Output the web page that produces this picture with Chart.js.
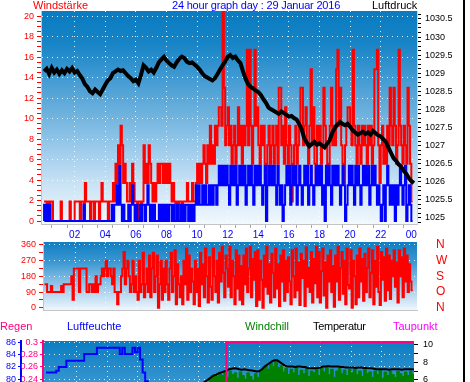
<!DOCTYPE html>
<html><head><meta charset="utf-8">
<script src="https://cdn.jsdelivr.net/npm/chart.js@4/dist/chart.umd.min.js"></script>
<style>
html,body{margin:0;padding:0;background:#fff;overflow:hidden;width:470px;height:382px}
#wrap{position:relative;width:470px;height:382px;overflow:hidden;font-family:'Liberation Sans',Arial,sans-serif}
canvas{position:absolute;left:0}
.t{position:absolute;font-size:11px;line-height:11px;white-space:nowrap}
#frame{position:absolute;left:463px;top:0;width:2px;height:382px;background:#000}
</style></head><body>
<div id="wrap">
<canvas id="c1" width="470" height="250" style="top:0"></canvas>
<canvas id="c2" width="470" height="90" style="top:232px"></canvas>
<canvas id="c3" width="470" height="100" style="top:330px"></canvas>
<div class="t" style="left:33px;top:0;color:#ff0000">Windstärke</div>
<div class="t" style="left:172px;top:0;color:#0000ff;letter-spacing:-0.2px">24 hour graph day : 29 Januar 2016</div>
<div class="t" style="left:372px;top:0;color:#000">Luftdruck</div>
<div class="t" style="left:0;top:321px;color:#ff0080">Regen</div>
<div class="t" style="left:67px;top:321px;color:#0000ff">Luftfeuchte</div>
<div class="t" style="left:245px;top:321px;color:#008000">Windchill</div>
<div class="t" style="left:313px;top:321px;color:#000;letter-spacing:-0.3px">Temperatur</div>
<div class="t" style="left:393px;top:321px;color:#ff00ff">Taupunkt</div>
<div id="frame"></div>
</div>
<script>
// ---- data ----
// wind speed, gusts and direction: one value every 5 minutes; the rest: every 10 minutes
const STEP_5MIN = 1 / 12;
const STEP_10MIN = 1 / 6;

const windGust = [
1.9,1.9,1.9,0,1.9,0,1.9,1.9,0,0,0,0,
0,0,1.9,0,0,0,0,0,0,1.9,0,0,
0,1.9,1.9,1.9,1.9,0,1.9,1.9,0,3.7,1.9,1.9,
1.9,0,1.9,1.9,0,1.9,1.9,1.9,0,1.9,3.7,1.9,
1.9,1.9,1.9,0,1.9,1.9,1.9,3.7,1.9,5.6,3.7,7.4,
5.6,9.3,7.4,3.7,5.6,3.7,1.9,1.9,3.7,1.9,5.6,3.7,
1.9,1.9,0,1.9,1.9,0,1.9,7.4,3.7,5.6,3.7,7.4,
5.6,3.7,1.9,3.7,1.9,3.7,5.6,3.7,5.6,5.6,3.7,5.6,
3.7,5.6,3.7,5.6,3.7,1.9,3.7,1.9,0,1.9,0,1.9,
1.9,0,1.9,1.9,1.9,3.7,1.9,1.9,1.9,3.7,1.9,1.9,
3.7,5.6,3.7,5.6,3.7,5.6,7.4,5.6,3.7,7.4,5.6,9.3,
5.6,7.4,5.6,9.3,7.4,9.3,11.1,11.1,9.3,20.4,13,7.4,
9.3,11.1,7.4,9.3,5.6,7.4,9.3,5.6,7.4,11.1,7.4,9.3,
5.6,9.3,7.4,9.3,16.7,7.4,16.7,9.3,5.6,9.3,16.7,9.3,
11.1,7.4,5.6,9.3,7.4,9.3,5.6,3.7,7.4,9.3,5.6,7.4,
9.3,5.6,7.4,9.3,5.6,13,13,7.4,9.3,5.6,11.1,7.4,
5.6,9.3,7.4,1.9,5.6,7.4,9.3,5.6,7.4,9.3,13,13,
7.4,9.3,11.1,7.4,5.6,9.3,14.8,7.4,11.1,5.6,3.7,9.3,
7.4,9.3,5.6,7.4,13,9.3,7.4,3.7,5.6,9.3,13,7.4,
9.3,7.4,14.8,16.7,9.3,13,7.4,5.6,3.7,7.4,9.3,11.1,
11.1,9.3,7.4,16.7,9.3,7.4,5.6,9.3,7.4,5.6,9.3,7.4,
9.3,7.4,5.6,9.3,7.4,9.3,5.6,7.4,14.8,14.8,16.7,7.4,
3.7,7.4,9.3,5.6,7.4,5.6,9.3,7.4,13,9.3,7.4,13,
9.3,5.6,7.4,16.7,9.3,7.4,5.6,9.3,7.4,5.6,13,9.3,
5.6,1.9];

const windSpeed = [
0,1.6,0,1.6,0,1.6,0,0,0,0,0,0,
0,0,0,0,0,0,0,0,0,0,0,0,
0,0,0,0,0,0,0,0,1.6,0,0,0,
0,0,0,0,0,0,0,0,0,0,0,0,
0,0,0,0,0,0,1.6,0,1.6,1.6,3.5,1.6,
5.4,1.6,0,1.6,0,0,0,1.6,0,1.6,3.5,1.6,
0,1.6,0,0,1.6,0,1.6,1.6,0,1.6,3.5,1.6,
0,1.6,0,1.6,0,0,0,1.6,0,1.6,0,1.6,
0,1.6,0,1.6,1.6,0,1.6,0,0,1.6,0,0,
1.6,0,1.6,0,1.6,1.6,0,1.6,0,1.6,0,1.6,
3.5,1.6,3.5,1.6,1.6,3.5,1.6,3.5,1.6,1.6,3.5,1.6,
3.5,1.6,3.5,3.5,1.6,3.5,5.4,3.5,5.4,3.5,5.4,3.5,
5.4,3.5,1.6,5.4,3.5,5.4,3.5,5.4,1.6,3.5,5.4,3.5,
5.4,3.5,5.4,1.6,3.5,5.4,3.5,5.4,3.5,1.6,5.4,3.5,
5.4,3.5,5.4,3.5,1.6,3.5,5.4,0,3.5,5.4,3.5,5.4,
3.5,5.4,3.5,1.6,5.4,3.5,1.6,3.5,0,1.6,3.5,5.4,
3.5,5.4,1.6,3.5,5.4,3.5,5.4,1.6,3.5,5.4,3.5,1.6,
3.5,5.4,3.5,5.4,1.6,3.5,5.4,3.5,1.6,3.5,5.4,3.5,
5.4,3.5,5.4,1.6,3.5,0,5.4,3.5,5.4,3.5,1.6,5.4,
3.5,5.4,3.5,5.4,3.5,1.6,3.5,5.4,3.5,0,1.6,3.5,
5.4,3.5,5.4,3.5,1.6,5.4,3.5,5.4,3.5,1.6,3.5,5.4,
3.5,5.4,3.5,5.4,1.6,3.5,5.4,3.5,5.4,3.5,1.6,3.5,
1.6,0,1.6,3.5,0,3.5,5.4,3.5,1.6,3.5,1.6,3.5,
0,3.5,1.6,3.5,5.4,3.5,1.6,3.5,5.4,0,1.6,3.5,
1.6,0];

const windDir = [
135,135,135,90,90,90,125,90,90,90,90,90,
90,90,125,90,135,135,135,135,135,135,180,45,
225,225,225,225,90,225,225,225,225,225,90,90,
135,135,90,135,90,180,90,135,135,180,225,180,
225,270,180,225,225,180,135,225,90,90,20,90,
90,180,225,320,135,225,270,180,90,135,270,90,
180,90,45,270,90,135,315,60,135,225,90,300,
60,225,315,90,180,300,0,135,270,45,225,90,
270,135,45,225,315,90,180,330,20,250,135,60,
180,20,270,135,340,45,300,90,225,150,20,270,
90,225,10,315,135,250,60,340,180,30,290,120,
45,340,180,90,270,30,315,150,350,200,60,300,
225,120,350,60,270,180,20,330,110,300,45,240,
20,300,135,340,90,225,350,60,280,160,320,10,
330,45,270,160,0,300,120,350,80,250,30,310,
200,60,340,110,250,10,300,150,330,40,270,90,
290,150,20,330,180,60,340,100,260,15,310,170,
270,10,345,120,230,90,320,30,280,140,350,60,
320,30,210,340,70,260,0,300,150,330,90,240,
5,300,150,350,45,230,320,80,270,20,340,130,
110,330,0,270,180,20,300,60,340,150,280,40,
310,90,230,340,60,200,330,20,270,120,350,90,
15,320,160,290,40,340,100,300,50,270,180,330,
120,260,30,330,180,290,60,340,150,300,90,250,
150,100];

const pressure = [
1029.05,1029.12,1028.98,1029.15,1029.02,1029.10,
1028.98,1029.08,1029.00,1029.12,1029.05,1029.14,
1029.02,1029.06,1028.95,1028.85,1028.70,1028.62,
1028.50,1028.45,1028.55,1028.48,1028.42,1028.55,
1028.68,1028.80,1028.86,1029.00,1029.05,1029.10,
1029.06,1029.08,1029.00,1028.92,1028.86,1028.78,
1028.82,1028.72,1028.95,1029.22,1029.15,1029.05,
1029.10,1029.02,1029.15,1029.30,1029.38,1029.45,
1029.35,1029.28,1029.22,1029.18,1029.30,1029.40,
1029.46,1029.42,1029.32,1029.28,1029.30,1029.24,
1029.18,1029.10,1029.00,1028.92,1028.88,1028.84,
1028.80,1028.86,1028.98,1029.10,1029.22,1029.32,
1029.45,1029.50,1029.42,1029.46,1029.35,1029.28,
1029.05,1028.85,1028.70,1028.62,1028.58,1028.52,
1028.48,1028.40,1028.28,1028.18,1028.05,1028.00,
1027.96,1027.92,1027.88,1027.94,1027.90,1027.85,
1027.80,1027.82,1027.76,1027.72,1027.60,1027.45,
1027.20,1027.08,1026.98,1027.04,1027.10,1027.02,
1027.06,1027.00,1026.95,1027.05,1027.15,1027.35,
1027.48,1027.58,1027.65,1027.60,1027.56,1027.60,
1027.52,1027.42,1027.36,1027.30,1027.34,1027.38,
1027.32,1027.36,1027.30,1027.40,1027.34,1027.28,
1027.25,1027.18,1027.10,1026.95,1026.80,1026.65,
1026.58,1026.48,1026.42,1026.30,1026.22,1026.10,
1026.02,1025.96];

const humidity = [
81.1,81.1,81.1,81.1,81.1,81.4,
82.0,82.0,82.0,83.0,83.0,83.0,
83.0,83.0,83.0,83.0,84.1,84.1,
84.1,84.1,84.1,85.1,85.1,85.1,
85.1,85.1,85.1,85.1,85.1,85.1,
84.1,85.1,84.1,84.1,84.1,85.1,
84.4,85.1,83.2,81.1,79.7,77.0];

const rain = [
0,0,0,0,0,0, 0,0,0,0,0,0, 0,0,0,0,0,0, 0,0,0,0,0,0,
0,0,0,0,0,0, 0,0,0,0,0,0, 0,0,0,0,0,0, 0,0,0,0,0,0,
0,0,0,0,0,0, 0,0,0,0,0,0, 0,0,0,0,0,0, 0,0,0,0,0,0,
0.3,0.3,0.3,0.3,0.3,0.3, 0.3,0.3,0.3,0.3,0.3,0.3, 0.3,0.3,0.3,0.3,0.3,0.3,
0.3,0.3,0.3,0.3,0.3,0.3, 0.3,0.3,0.3,0.3,0.3,0.3, 0.3,0.3,0.3,0.3,0.3,0.3,
0.3,0.3,0.3,0.3,0.3,0.3, 0.3,0.3,0.3,0.3,0.3,0.3, 0.3,0.3,0.3,0.3,0.3,0.3,
0.3,0.3,0.3,0.3,0.3,0.3, 0.3,0.3,0.3,0.3,0.3,0.3, 0.3,0.3,0.3,0.3,0.3,0.3,
0.3,0.3,0.3,0.3,0.3,0.3, 0.3,0];

const temperature = [
null,null,null,null,null,null, null,null,null,null,null,null,
null,null,null,null,null,null, null,null,null,null,null,null,
null,null,null,null,null,null, null,null,null,null,null,null,
null,null,null,null,null,null, null,null,null,null,null,null,
null,null,null,null,null,null, null,null,null,null,null,null,
5.4,5.6,5.7,5.9,6.1,6.3,
6.5,6.6,6.75,6.85,6.95,7.05,
7.2,7.25,7.3,7.28,7.2,7.15,
7.2,7.15,7.1,7.05,7.0,6.95,
7.0,7.2,7.5,7.7,7.9,8.1,
8.2,8.2,8.0,7.8,7.6,7.5,
7.5,7.5,7.45,7.5,7.5,7.45,
7.45,7.35,7.3,7.3,7.3,7.35,
7.4,7.5,7.5,7.55,7.5,7.5,
7.5,7.5,7.45,7.45,7.4,7.4,
7.4,7.4,7.35,7.4,7.4,7.35,
7.35,7.3,7.3,7.25,7.2,7.2,
7.2,7.2,7.2,7.15,7.2,7.2,
7.2,7.2,7.15,7.2,7.2,7.2,
7.2,7.15];

const windchill = [
null,null,null,null,null,null, null,null,null,null,null,null,
null,null,null,null,null,null, null,null,null,null,null,null,
null,null,null,null,null,null, null,null,null,null,null,null,
null,null,null,null,null,null, null,null,null,null,null,null,
null,null,null,null,null,null, null,null,null,null,null,null,
null,null,null,null,5.9,6.2,
6.5,6.6,6.4,6.7,6.5,6.9,
6.3,7.0,6.6,6.8,6.2,6.9,
6.5,6.1,6.8,6.4,6.0,6.7,
6.3,6.9,7.3,7.6,7.2,7.9,
7.5,8.1,7.4,7.6,6.9,7.3,
6.6,7.2,6.8,7.4,6.5,7.1,
6.7,7.3,6.4,7.0,6.8,7.2,
6.5,7.3,6.9,7.4,6.6,7.2,
6.3,7.0,7.3,6.7,7.1,6.5,
7.2,6.8,7.3,6.6,7.0,6.4,
7.2,6.7,6.9,6.3,7.0,6.6,
7.1,6.2,6.9,6.5,7.0,6.6,
6.3,7.0,6.7,6.4,6.9,6.5,
7.0,6.6];

// ---- tick labels ----
const hourLabels = ['02','04','06','08','10','12','14','16','18','20','22','00'];
const windLabels = [0,2,4,6,8,10,12,14,16,18,20];
const pressLabels = [1025,1025.5,1026,1026.5,1027,1027.5,1028,1028.5,1029,1029.5,1030,1030.5];
const dirTicks = [0,90,180,270,360];
const dirNames = ['N','O','S','W','N'];
const humLabels = [80,82,84,86];
const rainLabels = [0.24,0.26,0.28,0.3];
const tempLabels = [6,8,10];

// ---- helpers ----
Chart.defaults.font.family = "'Liberation Sans', Arial, sans-serif";
Chart.defaults.animation = false;
const toPts = (arr, step) => arr.map((v, i) => ({ x: i * step, y: v }));
const range = (a, b, s) => { const n = Math.round((b - a) / s), r = []; for (let k = 0; k <= n; k++) r.push(+(a + k * s).toFixed(6)); return r; };
const setTicks = vals => s => { s.ticks = vals.map(v => ({ value: v })); };
const DOT = 'rgba(255,255,255,0.85)';
const tv = c => (c && c.tick) ? c.tick.value : NaN;

const bgPlugin = {
  id: 'bgGrad',
  beforeDraw(chart, args, opts) {
    const { ctx, chartArea: a } = chart;
    const g = ctx.createLinearGradient(0, a.top, 0, a.bottom);
    opts.stops.forEach(s => g.addColorStop(s[0], s[1]));
    ctx.save(); ctx.fillStyle = g; ctx.fillRect(a.left, a.top, a.right - a.left, a.bottom - a.top); ctx.restore();
  }
};
const baseOpts = (padding, stops) => ({
  responsive: false, events: [],
  layout: { padding },
  plugins: { legend: { display: false }, tooltip: { enabled: false }, bgGrad: { stops } },
  elements: { point: { radius: 0 }, line: { tension: 0 } }
});

// ---- top: wind + pressure ----
new Chart(document.getElementById('c1'), {
  type: 'line',
  data: { datasets: [
    { data: toPts(pressure, STEP_10MIN), yAxisID: 'yP', borderColor: '#000', borderWidth: 4 },
    { data: toPts(windSpeed, STEP_5MIN), yAxisID: 'yW', borderColor: '#0000ff', borderWidth: 2, stepped: 'after' },
    { data: toPts(windGust, STEP_5MIN), yAxisID: 'yW', borderColor: '#ff0000', borderWidth: 2, stepped: 'after' }
  ]},
  options: Object.assign(baseOpts({ top: 11, left: 0, right: 8, bottom: 10 },
    [[0,'#0a7bc1'],[0.15,'#1684c6'],[0.35,'#4b9fd5'],[0.5,'#72b4de'],[0.65,'#9dcbeb'],[0.8,'#c6e1f4'],[1,'#f2f8fe']]), {
    scales: {
      x: { type: 'linear', min: -0.2, max: 24.37,
        afterBuildTicks: setTicks(range(0, 24, 0.5)),
        afterFit: s => { s.height = 16; },
        ticks: { autoSkip: false, maxRotation: 0, color: '#0000ff', font: { size: 10 }, padding: 1,
          callback: v => (v % 2 === 0 && v >= 2) ? hourLabels[v / 2 - 1] : '' },
        grid: { color: c => { const v = tv(c); return (v % 2 === 0 && v >= 2 && v <= 22) ? DOT : 'transparent'; },
          tickColor: c => (tv(c) % 1 === 0.5 ? '#a8a8a8' : 'transparent'), tickLength: 4 },
        border: { color: '#c4c4c4', dash: [1, 4] } },
      yW: { position: 'left', min: -0.29, max: 20.49,
        afterBuildTicks: setTicks(range(0, 20, 0.5)),
        afterFit: s => { s.width = 41; },
        ticks: { autoSkip: false, color: '#ff0000', font: { size: 9 }, padding: 3,
          callback: v => windLabels.includes(v) ? String(v) : '' },
        grid: { color: c => windLabels.includes(tv(c)) ? DOT : 'transparent', tickColor: '#ff0000', tickLength: 4 },
        border: { color: '#c4c4c4', dash: [1, 4] } },
      yP: { position: 'right', min: 1024.83, max: 1030.72,
        afterBuildTicks: setTicks(range(1024.875, 1030.625, 0.125)),
        afterFit: s => { s.width = 45; },
        ticks: { autoSkip: false, color: '#000', font: { size: 9 }, padding: 4,
          callback: v => pressLabels.includes(v) ? String(v) : '' },
        grid: { drawOnChartArea: false, tickColor: '#000', tickLength: 4 },
        border: { color: '#d8d8d8' } }
    }
  }),
  plugins: [bgPlugin]
});

// ---- middle: wind direction ----
new Chart(document.getElementById('c2'), {
  type: 'line',
  data: { datasets: [
    { data: toPts(windDir, STEP_5MIN), yAxisID: 'yD', borderColor: '#ff0000', borderWidth: 2, stepped: 'after' }
  ]},
  options: Object.assign(baseOpts({ top: 10, left: 0, right: 0, bottom: 12 },
    [[0,'#0f7ec3'],[0.3,'#3c98d2'],[0.55,'#80bce4'],[0.8,'#bfdcf2'],[1,'#eef6fd']]), {
    scales: {
      x: { type: 'linear', min: -0.1, max: 24.36,
        afterBuildTicks: setTicks(range(2, 22, 2)),
        afterFit: s => { s.height = 0; },
        ticks: { display: false },
        grid: { color: DOT, drawTicks: false },
        border: { color: '#c4c4c4', dash: [1, 4] } },
      yD: { position: 'left', min: -13.2, max: 377.2,
        afterBuildTicks: setTicks(range(0, 360, 45)),
        afterFit: s => { s.width = 43; },
        ticks: { autoSkip: false, color: '#ff0000', font: { size: 9 }, padding: 3,
          callback: v => dirTicks.includes(v) ? String(v) : '' },
        grid: { color: c => (dirTicks.includes(tv(c)) && tv(c) > 0) ? DOT : 'transparent', tickColor: '#ff0000', tickLength: 4 },
        border: { color: '#c4c4c4', dash: [1, 4] } },
      yN: { position: 'right', min: -13.2, max: 377.2,
        afterBuildTicks: setTicks(dirTicks),
        afterFit: s => { s.width = 53; },
        ticks: { autoSkip: false, color: '#ff0000', font: { size: 12 }, padding: 2,
          callback: v => dirNames[dirTicks.indexOf(v)] },
        grid: { display: true, drawOnChartArea: false, drawTicks: true, tickLength: 17, tickColor: 'transparent' },
        border: { display: false } }
    }
  }),
  plugins: [bgPlugin]
});

// ---- bottom: rain, humidity, temperature, windchill ----
new Chart(document.getElementById('c3'), {
  type: 'line',
  data: { datasets: [
    { data: toPts(rain, STEP_10MIN), yAxisID: 'yR', borderColor: '#ff0080', borderWidth: 2, stepped: 'after' },
    { data: toPts(temperature, STEP_10MIN), yAxisID: 'yT', borderColor: '#000', borderWidth: 2 },
    { data: toPts(humidity, STEP_10MIN), yAxisID: 'yH', borderColor: '#0000ff', borderWidth: 2, stepped: 'after' },
    { data: toPts(windchill, STEP_10MIN), yAxisID: 'yT', borderColor: '#008000', backgroundColor: '#008000', borderWidth: 1, stepped: 'after', fill: 'start' }
  ]},
  options: Object.assign(baseOpts({ top: 11, left: 0, right: 26, bottom: 9 },
    [[0,'#0b7dc2'],[0.5,'#3394cf'],[1,'#6aafdc']]), {
    scales: {
      x: { type: 'linear', min: -0.2, max: 24.13,
        afterBuildTicks: setTicks(range(2, 22, 2)),
        afterFit: s => { s.height = 0; },
        ticks: { display: false },
        grid: { color: DOT, drawTicks: false },
        border: { display: false, dash: [1, 4] } },
      yH: { position: 'left', weight: 1, min: 73.47, max: 86.21,
        afterBuildTicks: setTicks(humLabels),
        afterFit: s => { s.width = 21; },
        ticks: { autoSkip: false, color: '#0000ff', font: { size: 9 }, padding: 2, callback: v => String(v) },
        grid: { color: DOT, tickColor: '#0000ff', tickLength: 3 },
        border: { color: '#0000ff', width: 2, dash: [1, 4] } },
      yR: { position: 'left', weight: 0, min: 0.1747, max: 0.3021,
        afterBuildTicks: setTicks(rainLabels),
        afterFit: s => { s.width = 22; },
        ticks: { autoSkip: false, color: '#ff0080', font: { size: 9 }, padding: 2, callback: v => String(v) },
        grid: { drawOnChartArea: false, tickColor: '#ff0080', tickLength: 3 },
        border: { color: '#ff0080', width: 2 } },
      yT: { position: 'right', min: 1.57, max: 10.36,
        afterBuildTicks: setTicks(range(2, 10, 1)),
        afterFit: s => { s.width = 30; },
        ticks: { autoSkip: false, color: '#000', font: { size: 9 }, padding: 5,
          callback: v => tempLabels.includes(v) ? String(v) : '' },
        grid: { drawOnChartArea: false, tickColor: '#000', tickLength: 4 },
        border: { display: false } }
    }
  }),
  plugins: [bgPlugin]
});
</script>
</body></html>
